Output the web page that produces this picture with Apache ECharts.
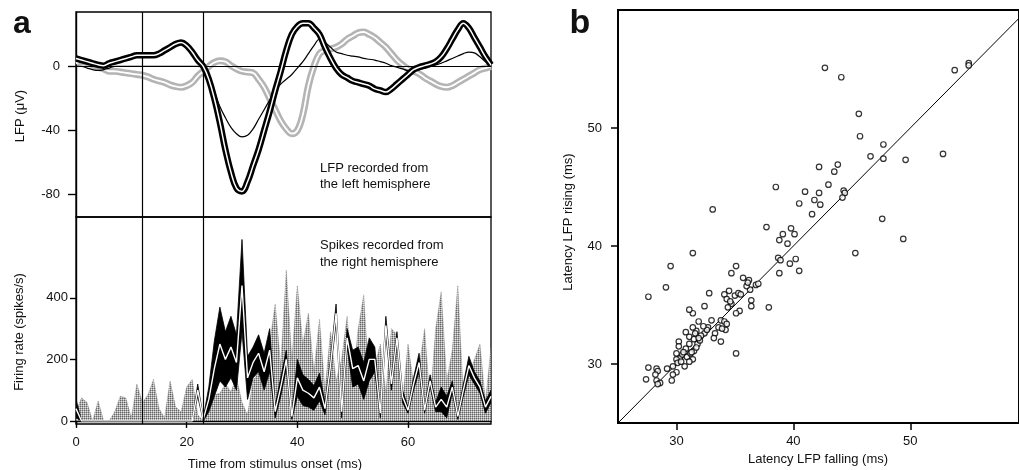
<!DOCTYPE html>
<html>
<head>
<meta charset="utf-8">
<title>LFP and spikes</title>
<script type="text/javascript" src="https://cdn.jsdelivr.net/npm/echarts@6/dist/echarts.min.js"></script>
<style>
	html, body { margin: 0; padding: 0; background: #fff; }
	#main { width: 1019px; height: 470px; }
</style>
</head>
<body>
<div id="main"></div>
<script type="text/javascript">
// time bins (ms)
var timeMs = [0,1,2,3,4,5,6,7,8,9,10,11,12,13,14,15,16,17,18,19,20,21,22,23,24,25,26,27,28,29,30,31,32,33,34,35,36,37,38,39,
	40,41,42,43,44,45,46,47,48,49,50,51,52,53,54,55,56,57,58,59,60,61,62,63,64,65,66,67,68,69,70,71,72,73,74,75];

// LFP traces (uV)
var lfpThick = [5,4,3,2,1,0.5,2,3,4,5,6,7,7,7,7,8,10,12,14,15,13,9,4,0,-8,-20,-35,-52,-66,-76,-78,-72,-62,-52,-40,-28,-15,-3,10,20,
	25,27,27,24,20,12,5,-1,-5,-7,-9,-10,-11,-12,-14,-15,-16,-14,-11,-8,-5,-2,-0.5,0.5,1.5,3,6,11,17,23,27,24,18,12,6,1];
var lfpThin = [0,0,-1,-2,-2.5,-2,-1,0,0,0,0,0,0,0,0,0,0,0,0,0,0,0,0,-1,-8,-16,-25,-32,-38,-42,-44,-43,-39,-33,-27,-21,-15,-11,-8,-5,
	-1,3,8,13,17,15,12,9,8,7,6.5,6,5,4.5,4,3,2,0.5,-0.5,-1.5,-2.5,-2.5,-2,-1,0,1,2,3.5,5,6.5,8,9,8.5,6,3,1];
var lfpGray = [2,3,2.5,1,-0.5,-1.5,-3,-3,-3.5,-4,-4.5,-5,-5.5,-6.5,-8,-9,-10,-11.5,-12.5,-13,-12,-10,-6,-3,0,2.5,3.5,3,0.5,-1.5,
	-3,-3.5,-4,-8,-13,-20,-27,-34,-39,-42,-40,-30,-12,0,8,10,11,12,14,17,19,21,21.5,20,18,15,12,8,4,1,-1.5,-3,-4.5,-7,-9,-11,-12.5,-13,-12,-10,-8,-6,-4,-2,-1,0];

// firing rates (spikes/s)
var rateGray = [30,75,60,0,65,0,0,30,80,75,10,120,60,85,135,40,10,130,45,30,110,135,20,0,30,85,90,120,95,140,
	60,20,130,160,90,250,380,180,490,200,440,250,350,160,330,100,290,130,200,340,120,300,410,110,180,250,90,300,280,60,
	250,120,170,300,60,300,420,130,230,440,80,150,200,250,60,240];
var rateMean = [40,0,0,0,0,0,0,0,0,0,0,0,0,0,0,0,0,0,0,0,0,0,100,5,70,170,250,200,240,190,
	440,140,190,220,160,230,30,110,200,15,140,100,90,75,110,40,180,350,30,270,170,180,130,200,200,25,310,120,270,80,
	35,120,190,35,130,45,70,45,110,15,100,180,140,110,45,80];
var rateErr = [30,0,0,0,0,0,0,0,0,0,0,0,0,0,0,0,0,0,0,0,0,0,20,5,40,90,120,90,100,90,
	150,70,50,60,60,70,20,30,30,10,60,50,45,40,45,20,20,30,20,30,60,60,60,70,40,15,30,20,20,20,
	10,20,30,10,20,15,40,35,20,10,20,30,20,20,20,20];

// stimulus markers (ms)
var markTimes = [12, 23];

// latency scatter (ms)
var latFall = [42.7,44.1,53.8,55.0,55.0,45.6,45.7,47.7,46.6,47.7,49.6,52.8,42.2,43.8,43.5,43.0,38.5,44.3,44.4,44.2,41.0,42.2,41.8,40.5,42.3,41.6,
	33.1,47.6,37.7,39.8,39.1,40.1,49.4,45.3,38.8,39.5,31.4,29.5,29.1,27.6,35.1,34.7,38.7,38.9,39.7,40.2,40.5,38.8,37.9,35.1,33.8,36.2,
	35.7,36.8,36.3,36.0,36.4,36.4,35.4,35.1,34.5,34.1,32.8,32.4,31.4,31.1,34.3,34.7,34.4,35.0,35.3,33.8,34.1,34.3,34.2,33.6,33.3,33.0,
	32.7,31.9,32.4,32.1,31.7,31.4,30.8,31.1,31.5,31.8,30.2,30.2,31.1,31.5,30.8,30.0,30.3,30.5,30.9,31.2,31.4,31.1,30.7,30.0,29.7,30.1,
	30.0,29.7,29.6,29.2,28.3,28.4,28.2,28.3,28.6,28.4,27.6,27.4,32.0,32.6,31.9,30.6,31.7,32.3,33.2,34.6,35.5,36.1,37.0,31.3,30.4,31.6,33.9];
var latRise = [55.1,54.3,54.9,55.5,55.3,51.2,49.3,48.6,47.6,47.4,47.3,47.8,46.7,46.9,46.3,45.2,45.0,44.7,44.5,44.1,44.6,44.5,43.9,43.6,43.5,42.7,
	43.1,42.3,41.6,41.5,41.0,41.0,40.6,39.4,40.5,40.2,39.4,38.3,36.5,35.7,38.3,37.7,39.0,38.8,38.5,38.9,37.9,37.7,34.8,30.9,31.9,37.1,
	37.3,36.7,36.3,36.6,35.4,34.9,34.5,34.3,36.2,35.9,36.0,34.9,34.3,34.6,35.5,35.1,34.8,35.8,36.0,33.7,33.6,33.4,32.9,33.1,32.6,33.7,
	33.1,33.6,32.6,32.4,32.8,33.1,32.7,32.3,32.1,31.7,31.9,31.5,31.7,31.1,31.3,30.9,30.5,30.8,30.6,30.9,30.4,30.2,29.8,30.4,29.8,30.1,
	29.3,29.1,28.6,29.6,29.6,29.4,29.1,28.6,28.4,28.3,29.7,28.7,32.0,32.9,32.2,31.0,31.4,33.2,32.2,35.3,35.9,36.9,36.8,31.0,30.2,32.6,33.0];
var unityLine = [25, 59.3];

function pairs(xs, ys) {
	var out = [];
	for (var i = 0; i < xs.length; i++) out.push([xs[i], ys[i]]);
	return out;
}

// dotted texture for the gray histogram
var dots = document.createElement('canvas');
dots.width = 2; dots.height = 2;
var dctx = dots.getContext('2d');
dctx.fillStyle = '#e4e4e4'; dctx.fillRect(0, 0, 2, 2);
dctx.fillStyle = '#666'; dctx.fillRect(0, 0, 1, 1);
dctx.fillStyle = '#aaa'; dctx.fillRect(1, 0, 1, 1); dctx.fillRect(0, 1, 1, 1);

function label(text, x, y, rot, extra) {
	var s = { text: text, font: '13px "Liberation Sans"', fill: '#111', align: 'center', verticalAlign: 'middle' };
	for (var k in extra) s[k] = extra[k];
	return { type: 'text', x: x, y: y, rotation: rot || 0, style: s, silent: true };
}

var axisText = { color: '#111', fontFamily: 'Liberation Sans', fontSize: 13 };
var blackLine = { color: '#000', width: 1.4 };

var option = {
	animation: false,
	backgroundColor: '#fff',
	grid: [
		{ left: 76, top: 12, width: 415, height: 205, show: true, borderColor: '#000', borderWidth: 1.3 },
		{ left: 76, top: 217, width: 415, height: 207, show: true, borderColor: '#000', borderWidth: 1.3 },
		{ left: 618, top: 10, width: 406, height: 413, show: true, borderColor: '#000', borderWidth: 2 }
	],
	xAxis: [
		{ gridIndex: 0, type: 'value', min: 0, max: 75, axisLine: { show: false }, axisTick: { show: false }, axisLabel: { show: false }, splitLine: { show: false } },
		{ gridIndex: 1, type: 'value', min: 0, max: 75,
			axisLine: { lineStyle: blackLine },
			axisTick: { length: 7, lineStyle: blackLine, customValues: [0, 20, 40, 60] },
			axisLabel: Object.assign({ margin: 12, customValues: [0, 20, 40, 60] }, axisText),
			splitLine: { show: false } },
		{ gridIndex: 2, type: 'value', min: 25, max: 59.3,
			axisLine: { lineStyle: { color: '#000', width: 2 } },
			axisTick: { length: 7, lineStyle: { color: '#000', width: 1.5 }, customValues: [30, 40, 50] },
			axisLabel: Object.assign({ margin: 12, customValues: [30, 40, 50] }, axisText),
			splitLine: { show: false } }
	],
	yAxis: [
		{ gridIndex: 0, type: 'value', min: -94, max: 34,
			axisLine: { show: true, lineStyle: blackLine },
			axisTick: { show: true, length: 8, lineStyle: blackLine, customValues: [-80, -40, 0] },
			axisLabel: Object.assign({ margin: 16, customValues: [-80, -40, 0] }, axisText),
			splitLine: { show: false } },
		{ gridIndex: 1, type: 'value', min: -10, max: 663,
			axisLine: { show: true, lineStyle: blackLine },
			axisTick: { show: true, length: 6, lineStyle: blackLine, customValues: [0, 200, 400] },
			axisLabel: Object.assign({ margin: 8, customValues: [0, 200, 400] }, axisText),
			splitLine: { show: false } },
		{ gridIndex: 2, type: 'value', min: 25, max: 60,
			axisLine: { show: true, lineStyle: { color: '#000', width: 2 } },
			axisTick: { show: true, length: 7, lineStyle: { color: '#000', width: 1.5 }, customValues: [30, 40, 50] },
			axisLabel: Object.assign({ margin: 16, customValues: [30, 40, 50] }, axisText),
			splitLine: { show: false } }
	],
	series: [
		// top panel: gray band
		{ type: 'line', xAxisIndex: 0, yAxisIndex: 0, data: pairs(timeMs, lfpGray), smooth: 0.4, showSymbol: false,
			lineStyle: { color: '#b4b4b4', width: 7 }, z: 2,
			markLine: { silent: true, symbol: 'none', label: { show: false },
				lineStyle: { color: '#000', width: 1.2, type: 'solid' },
				data: [{ xAxis: markTimes[0] }, { xAxis: markTimes[1] }, { yAxis: 0 }] } },
		{ type: 'line', xAxisIndex: 0, yAxisIndex: 0, data: pairs(timeMs, lfpGray), smooth: 0.4, showSymbol: false,
			lineStyle: { color: '#fff', width: 1.8 }, z: 3 },
		{ type: 'line', xAxisIndex: 0, yAxisIndex: 0, data: pairs(timeMs, lfpThin), smooth: 0.4, showSymbol: false,
			lineStyle: { color: '#000', width: 1.2 }, z: 4 },
		{ type: 'line', xAxisIndex: 0, yAxisIndex: 0, data: pairs(timeMs, lfpThick), smooth: 0.4, showSymbol: false,
			lineStyle: { color: '#000', width: 6.5 }, z: 5 },
		{ type: 'line', xAxisIndex: 0, yAxisIndex: 0, data: pairs(timeMs, lfpThick), smooth: 0.4, showSymbol: false,
			lineStyle: { color: '#fff', width: 1.5 }, z: 6 },

		// bottom panel: gray histogram
		{ type: 'line', xAxisIndex: 1, yAxisIndex: 1, data: pairs(timeMs, rateGray), showSymbol: false,
			lineStyle: { color: '#888', width: 0.8, type: 'dotted' },
			areaStyle: { color: { image: dots, repeat: 'repeat' }, opacity: 1 }, z: 2,
			markLine: { silent: true, symbol: 'none', label: { show: false },
				lineStyle: { color: '#000', width: 1.2, type: 'solid' },
				data: [{ xAxis: markTimes[0] }, { xAxis: markTimes[1] }] } },
		// black mean +- error band
		{ type: 'custom', xAxisIndex: 1, yAxisIndex: 1, data: [[0, 0]], z: 3, clip: true,
			renderItem: function (params, api) {
				var up = [], lo = [];
				for (var i = 0; i < timeMs.length; i++) {
					up.push(api.coord([timeMs[i], rateMean[i] + rateErr[i]]));
					lo.unshift(api.coord([timeMs[i], Math.max(0, rateMean[i] - rateErr[i])]));
				}
				return { type: 'polygon', shape: { points: up.concat(lo) },
					style: { fill: '#000', stroke: '#000', lineWidth: 0.8 } };
			} },
		{ type: 'line', xAxisIndex: 1, yAxisIndex: 1, data: pairs(timeMs, rateMean), showSymbol: false,
			lineStyle: { color: '#fff', width: 1.4 }, z: 4 },

		// latency scatter
		{ type: 'line', xAxisIndex: 2, yAxisIndex: 2, data: pairs(unityLine, unityLine), showSymbol: false,
			lineStyle: { color: '#000', width: 1 }, z: 2 },
		{ type: 'scatter', xAxisIndex: 2, yAxisIndex: 2, data: pairs(latFall, latRise), symbol: 'circle', symbolSize: 5.5,
			itemStyle: { color: '#fff', borderColor: '#000', borderWidth: 1.2 }, z: 3 }
	],
	graphic: [
		label('a', 22, 24, 0, { font: 'bold 32px "Liberation Sans"' }),
		label('b', 580, 24, 0, { font: 'bold 34px "Liberation Sans"' }),
		label('LFP (μV)', 20, 116, Math.PI / 2),
		label('Firing rate (spikes/s)', 19, 332, Math.PI / 2),
		label('Time from stimulus onset (ms)', 275, 464, 0),
		label('Latency LFP rising (ms)', 568, 222, Math.PI / 2),
		label('Latency LFP falling (ms)', 818, 459, 0),
		label('LFP recorded from', 320, 168, 0, { align: 'left' }),
		label('the left hemisphere', 320, 184, 0, { align: 'left' }),
		label('Spikes recorded from', 320, 245, 0, { align: 'left' }),
		label('the right hemisphere', 320, 262, 0, { align: 'left' })
	]
};

var chart = echarts.init(document.getElementById('main'));
chart.setOption(option);
</script>
</body>
</html>
